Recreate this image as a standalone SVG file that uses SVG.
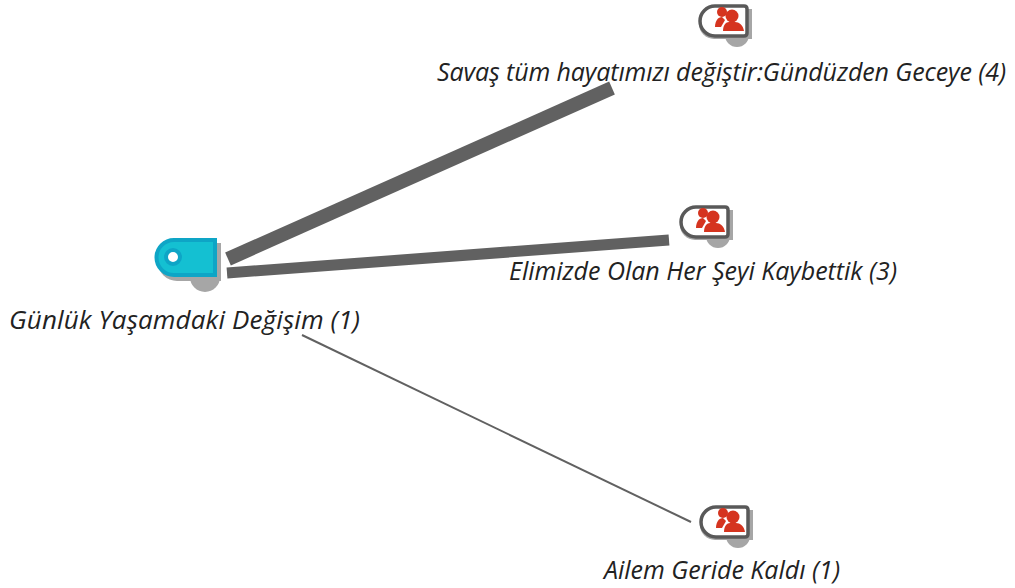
<svg xmlns="http://www.w3.org/2000/svg" width="1015" height="588" viewBox="0 0 1015 588">
<style>
text{font-family:"Open Sans","Noto Sans","Liberation Sans",sans-serif;font-style:italic;font-size:25px;fill:#222}
.sh{fill:#a6a6a6}
.box{fill:#fff;stroke:#595959;stroke-width:3.5}
.p{fill:#d5341f}
.l{stroke:#616161;fill:none}
</style>
<defs>
<g id="doc">
<path class="sh" d="M14 5H52V35H14A15 15 0 0 1 14 5Z"/>
<circle class="sh" cx="37" cy="31" r="12"/>
<path class="box" d="M15 2H44Q47 2 47 5V29Q47 32 44 32H15A15 15 0 0 1 15 2Z"/>
<circle class="p" cx="22" cy="8" r="5"/>
<path class="p" d="M15 23C15 17 18 13 22 13L25 16L21 23Z"/>
<circle class="p" cx="32" cy="12" r="6.500"/>
<path class="p" d="M23 27C23 21 26 18 29 18H35C39 18 43 21 44 27Z"/>
</g>
</defs>
<g id="connectors">
<line class="l" x1="228" y1="259" x2="612" y2="88" stroke-width="14"/>
<line class="l" x1="227" y1="273" x2="669" y2="240" stroke-width="11"/>
<line class="l" x1="302" y1="335" x2="691" y2="522" stroke-width="2"/>
</g>
<g id="node-gunluk">
<path class="sh" d="M177 243H221V281H177A19 19 0 0 1 177 243Z"/>
<circle class="sh" cx="205" cy="277" r="15"/>
<path d="M174 240H215V275H174A17.500 17.500 0 0 1 174 240Z" fill="#14c0d2" stroke="#0ea5c6" stroke-width="4"/>
<circle cx="173" cy="257" r="7" fill="#fff" stroke="#0ea5c6" stroke-width="4"/>
<text x="9" y="329" font-size="26" style="font-size:26px" textLength="351" lengthAdjust="spacing">Günlük Yaşamdaki Değişim (1)</text>
</g>
<g id="node-savas">
<use href="#doc" x="700" y="4"/>
<text x="437" y="81" textLength="569" lengthAdjust="spacing">Savaş tüm hayatımızı değiştir:Gündüzden Geceye (4)</text>
</g>
<g id="node-elimizde">
<use href="#doc" x="681" y="205"/>
<text x="509" y="280" textLength="388" lengthAdjust="spacing">Elimizde Olan Her Şeyi Kaybettik (3)</text>
</g>
<g id="node-ailem">
<use href="#doc" x="701" y="505"/>
<text x="604" y="579" textLength="236" lengthAdjust="spacing">Ailem Geride Kaldı (1)</text>
</g>
</svg>
